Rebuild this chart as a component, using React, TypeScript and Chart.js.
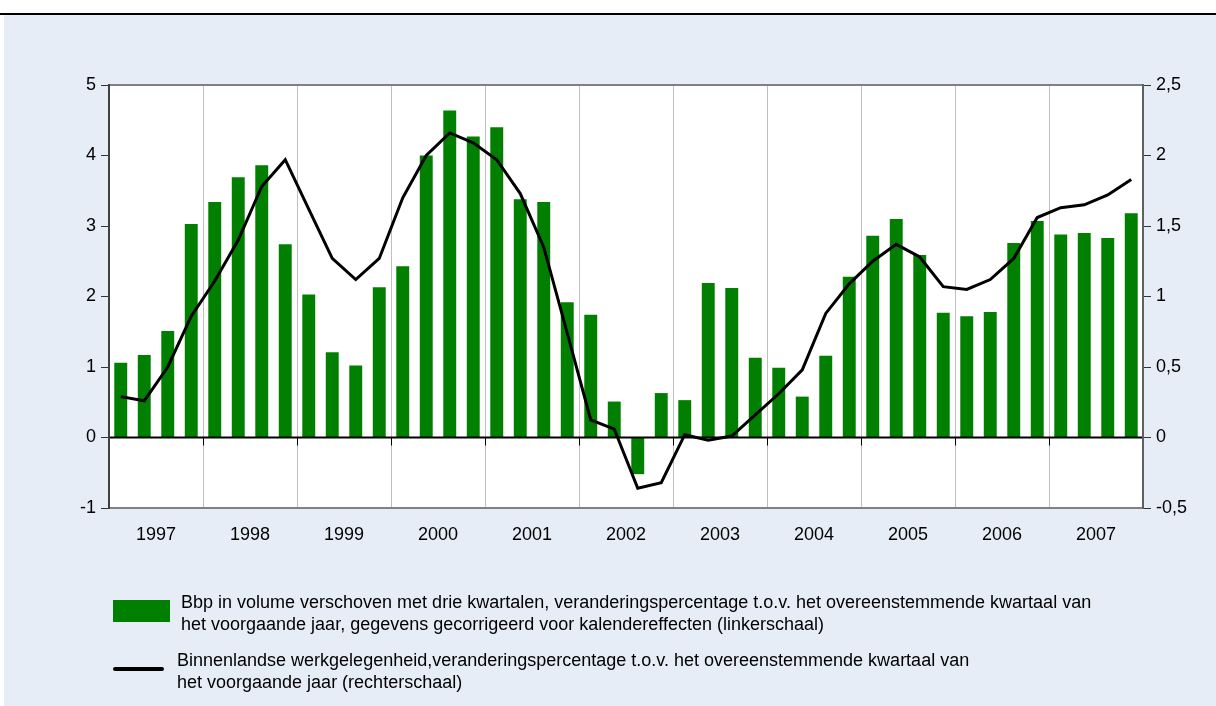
import React, { useEffect, useRef } from "react";
import { Chart, registerables } from "chart.js";

Chart.register(...registerables);

const years = ["1997", "1998", "1999", "2000", "2001", "2002", "2003", "2004", "2005", "2006", "2007"];
const quarterLabels = years.flatMap((y) => ["K1", "K2", "K3", "K4"].map((q) => `${y} ${q}`));

// Bbp in volume, shifted three quarters (left axis, %)
const bbpValues = [
  1.06, 1.17, 1.51, 3.03,
  3.34, 3.69, 3.86, 2.74,
  2.03, 1.21, 1.02, 2.13,
  2.43, 4.0, 4.64, 4.27,
  4.4, 3.38, 3.34, 1.92,
  1.74, 0.51, -0.52, 0.63,
  0.53, 2.19, 2.12, 1.13,
  0.99, 0.58, 1.16, 2.28,
  2.86, 3.1, 2.59, 1.77,
  1.72, 1.78, 2.76, 3.07,
  2.88, 2.9, 2.83, 3.18,
];

// Domestic employment (right axis, %)
const employmentValues = [
  0.29, 0.26, 0.5, 0.86,
  1.11, 1.4, 1.78, 1.97,
  1.62, 1.27, 1.12, 1.27,
  1.7, 2.0, 2.16, 2.09,
  1.97, 1.73, 1.35, 0.74,
  0.125, 0.06, -0.36, -0.32,
  0.02, -0.02, 0.01, 0.16,
  0.31, 0.48, 0.88, 1.09,
  1.25, 1.37, 1.28, 1.07,
  1.05, 1.12, 1.27, 1.56,
  1.63, 1.65, 1.72, 1.83,
];

const leftTicks = [-1, 0, 1, 2, 3, 4, 5];
const rightTicks = [-0.5, 0, 0.5, 1, 1.5, 2, 2.5];

const legendBarText = [
  "Bbp in volume verschoven met drie kwartalen, veranderingspercentage t.o.v. het overeenstemmende kwartaal van",
  "het voorgaande jaar, gegevens gecorrigeerd voor kalendereffecten (linkerschaal)",
];
const legendLineText = [
  "Binnenlandse werkgelegenheid,veranderingspercentage t.o.v. het overeenstemmende kwartaal van",
  "het voorgaande jaar (rechterschaal)",
];

const FONT = '"Liberation Sans", Arial, sans-serif';
const GREEN = "#007f00";
const PANEL_BG = "#e6edf6";

const decorPlugin = {
  id: "decor",
  beforeDraw(chart: any) {
    const { ctx, chartArea } = chart;
    const { left, top, right, bottom } = chartArea;
    const x = chart.scales.x;
    ctx.save();
    ctx.fillStyle = "#ffffff";
    ctx.fillRect(left, top, right - left, bottom - top);
    ctx.strokeStyle = "#c0c0c0";
    ctx.lineWidth = 1;
    for (let k = 1; k < years.length; k++) {
      const b = (x.getPixelForValue(4 * k - 1) + x.getPixelForValue(4 * k)) / 2;
      const px = Math.round(b) + 0.5;
      ctx.beginPath();
      ctx.moveTo(px, top);
      ctx.lineTo(px, bottom);
      ctx.stroke();
    }
    ctx.restore();
  },
  afterDatasetDraw(chart: any, args: any) {
    if (args.index !== 0) return;
    const { ctx, chartArea } = chart;
    const { left, right } = chartArea;
    const x = chart.scales.x;
    const y0 = chart.scales.y.getPixelForValue(0);
    ctx.save();
    ctx.strokeStyle = "#000";
    ctx.lineWidth = 2;
    ctx.beginPath();
    ctx.moveTo(left, y0);
    ctx.lineTo(right, y0);
    ctx.stroke();
    ctx.lineWidth = 1;
    const bounds = [left];
    for (let k = 1; k < years.length; k++) {
      bounds.push((x.getPixelForValue(4 * k - 1) + x.getPixelForValue(4 * k)) / 2);
    }
    bounds.push(right);
    bounds.forEach((b) => {
      const px = Math.round(b) + 0.5;
      ctx.beginPath();
      ctx.moveTo(px, y0);
      ctx.lineTo(px, y0 + 8);
      ctx.stroke();
    });
    ctx.restore();
  },
  afterDraw(chart: any) {
    const { ctx, chartArea } = chart;
    const { left, top, right, bottom } = chartArea;
    const x = chart.scales.x;
    ctx.save();
    ctx.lineWidth = 2;
    ctx.strokeStyle = "#808080";
    ctx.beginPath();
    ctx.moveTo(left, top);
    ctx.lineTo(right + 1, top);
    ctx.moveTo(left, bottom);
    ctx.lineTo(right + 1, bottom);
    ctx.stroke();
    ctx.strokeStyle = "#404040";
    ctx.beginPath();
    ctx.moveTo(left, top - 1);
    ctx.lineTo(left, bottom + 1);
    ctx.stroke();
    ctx.strokeStyle = "#606060";
    ctx.beginPath();
    ctx.moveTo(right, top - 1);
    ctx.lineTo(right, bottom + 1);
    ctx.stroke();
    // year labels
    ctx.fillStyle = "#000";
    ctx.font = `18px ${FONT}`;
    ctx.textAlign = "center";
    ctx.textBaseline = "alphabetic";
    years.forEach((yr, k) => {
      const cx = (x.getPixelForValue(4 * k + 1) + x.getPixelForValue(4 * k + 2)) / 2;
      ctx.fillText(yr, cx, bottom + 32);
    });
    ctx.restore();
  },
};

export default function App() {
  const canvasRef = useRef<HTMLCanvasElement | null>(null);

  useEffect(() => {
    const canvas = canvasRef.current;
    if (!canvas) return;
    const chart = new Chart(canvas, {
      type: "bar",
      data: {
        labels: quarterLabels,
        datasets: [
          {
            type: "bar",
            label: legendBarText.join(" "),
            data: bbpValues,
            backgroundColor: GREEN,
            borderWidth: 0,
            barPercentage: 0.55,
            categoryPercentage: 1,
            yAxisID: "y",
            order: 1,
          },
          {
            type: "line",
            label: legendLineText.join(" "),
            data: employmentValues,
            borderColor: "#000",
            borderWidth: 3,
            pointRadius: 0,
            tension: 0,
            fill: false,
            yAxisID: "y1",
            order: 0,
          } as any,
        ],
      },
      options: {
        responsive: false,
        animation: false,
        devicePixelRatio: 1,
        layout: { padding: { left: 0, right: 0, top: 85, bottom: 0 } },
        plugins: {
          legend: { display: false },
          tooltip: { enabled: false },
          title: { display: false },
        },
        scales: {
          x: {
            type: "category",
            grid: { display: false },
            border: { display: false },
            ticks: { display: false },
            afterFit(scale: any) {
              scale.height = 198;
            },
          },
          y: {
            position: "left",
            min: -1,
            max: 5,
            afterBuildTicks(scale: any) {
              scale.ticks = leftTicks.map((v) => ({ value: v }));
            },
            grid: {
              display: true,
              drawOnChartArea: false,
              drawTicks: true,
              tickLength: 8,
              color: "#333",
              lineWidth: 1,
            },
            border: { display: false },
            ticks: {
              color: "#000",
              font: { size: 18, family: FONT },
              padding: 5,
              callback: (v: any) => String(v),
            },
            afterFit(scale: any) {
              scale.width = 109;
            },
          },
          y1: {
            position: "right",
            min: -0.5,
            max: 2.5,
            afterBuildTicks(scale: any) {
              scale.ticks = rightTicks.map((v) => ({ value: v }));
            },
            grid: {
              display: true,
              drawOnChartArea: false,
              drawTicks: true,
              tickLength: 8,
              color: "#333",
              lineWidth: 1,
            },
            border: { display: false },
            ticks: {
              color: "#000",
              font: { size: 18, family: FONT },
              padding: 5,
              callback: (v: any) => String(v).replace(".", ","),
            },
            afterFit(scale: any) {
              scale.width = 73;
            },
          },
        },
      },
      plugins: [decorPlugin],
    });
    return () => chart.destroy();
  }, []);

  const textStyle: React.CSSProperties = {
    position: "absolute",
    fontFamily: FONT,
    fontSize: 18,
    lineHeight: "21.5px",
    color: "#000",
    whiteSpace: "nowrap",
  };

  return (
    <div
      style={{
        position: "fixed",
        left: 0,
        top: 0,
        width: 1216,
        height: 706,
        background: "#fff",
        overflow: "hidden",
      }}
    >
      <div style={{ position: "absolute", left: 0, top: 13, width: 1216, height: 2, background: "#000" }} />
      <div style={{ position: "absolute", left: 4, top: 15, width: 1212, height: 691, background: PANEL_BG }} />
      <canvas
        ref={canvasRef}
        width={1216}
        height={706}
        style={{ position: "absolute", left: 0, top: 0, width: 1216, height: 706 }}
      />
      <div style={{ position: "absolute", left: 113, top: 600, width: 57, height: 22, background: GREEN }} />
      <div style={{ ...textStyle, left: 181, top: 592 }}>
        {legendBarText[0]}
        <br />
        {legendBarText[1]}
      </div>
      <div style={{ position: "absolute", left: 113, top: 667, width: 51, height: 4, borderRadius: 2, background: "#000" }} />
      <div style={{ ...textStyle, left: 177, top: 650 }}>
        {legendLineText[0]}
        <br />
        {legendLineText[1]}
      </div>
    </div>
  );
}
